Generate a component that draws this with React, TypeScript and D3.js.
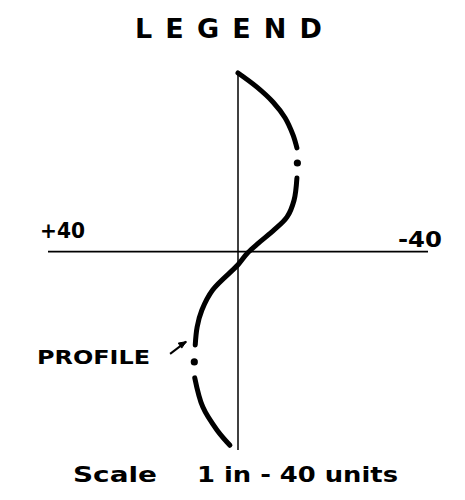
import * as d3 from "d3";

// profile: depth below top (0..80) vs deflection (+ to the left, - to the right)
const profileDepth = [0, 3, 6.2, 9.5, 13.2, 15.9, 19.1, 22.3, 27, 30.6, 33.3, 36.1, 38.2, 40.7, 46, 50.3, 53.9, 57.7, 61.3, 64.7, 70.9, 75.8, 79];
const profileDefl = [0, -4.0, -7.4, -9.9, -11.6, -12.4, -12.5, -12.4, -11.8, -10.3, -7.6, -4.3, -2.0, 0, 5.3, 7.6, 8.6, 9.0, 9.2, 9.1, 7.4, 4.4, 1.7];

// the drawn line is broken at these depths, with a dot in each break
const segments = [
  [0, 15.9],
  [22.3, 57.7],
  [64.7, 79],
];
const dotDepths = [19.1, 61.3];

const xLimits = [40, -40];
const xLabels = ["+40", "-40"];
const depthRange = [0, 80];
const axisDepth = 37.9;

const W = 465;
const H = 500;

export default function App() {
  const x = d3.scaleLinear().domain(xLimits).range([48, 428]);
  const y = d3.scaleLinear().domain(depthRange).range([73, 450]);

  const pts = profileDepth.map((d, i) => ({ depth: d, defl: profileDefl[i] }));

  const line = d3
    .line<{ depth: number; defl: number }>()
    .x((d) => x(d.defl))
    .y((d) => y(d.depth))
    .curve(d3.curveCatmullRom.alpha(0.5));

  const font = "'DejaVu Sans', sans-serif";

  // arrow pointing at the profile
  const tail = { defl: 14.3, depth: 59.6 };
  const head = { defl: 10.9, depth: 57.0 };

  return (
    <svg width={W} height={H} style={{ position: "absolute", left: 0, top: 0, background: "#fff" }}>
      <text x={135} y={38} fontFamily={font} fontWeight="bold" fontSize={27} textLength={187} lengthAdjust="spacing" fill="#000">
        LEGEND
      </text>

      {/* axes */}
      <line x1={x(xLimits[0])} x2={x(xLimits[1])} y1={y(axisDepth)} y2={y(axisDepth)} stroke="#000" strokeWidth={1.6} />
      <line x1={x(0)} x2={x(0)} y1={y(depthRange[0])} y2={y(depthRange[1])} stroke="#000" strokeWidth={1.5} />

      <text x={40} y={238} fontFamily={font} fontWeight="bold" fontSize={21} textLength={45} lengthAdjust="spacingAndGlyphs">
        {xLabels[0]}
      </text>
      <text x={398} y={247} fontFamily={font} fontWeight="bold" fontSize={21} textLength={44} lengthAdjust="spacingAndGlyphs">
        {xLabels[1]}
      </text>

      {/* profile */}
      {segments.map(([a, b], i) => (
        <path
          key={i}
          d={line(pts.filter((p) => p.depth >= a && p.depth <= b)) || ""}
          fill="none"
          stroke="#000"
          strokeWidth={5}
          strokeLinecap="round"
        />
      ))}
      {dotDepths.map((d) => {
        const p = pts.find((q) => q.depth === d)!;
        return <circle key={d} cx={x(p.defl)} cy={y(p.depth)} r={3.6} fill="#000" />;
      })}

      <text x={37} y={364} fontFamily={font} fontWeight="bold" fontSize={19} textLength={113} lengthAdjust="spacingAndGlyphs">
        PROFILE
      </text>
      <line x1={x(tail.defl)} y1={y(tail.depth)} x2={x(head.defl)} y2={y(head.depth)} stroke="#000" strokeWidth={2} />
      <path
        d={`M${x(head.defl)},${y(head.depth)} l-8,1.5 l3.5,5 z`}
        fill="#000"
        stroke="#000"
        strokeWidth={1}
      />

      <text x={73} y={482} fontFamily={font} fontWeight="bold" fontSize={22} textLength={84} lengthAdjust="spacingAndGlyphs">
        Scale
      </text>
      <text x={197} y={482} fontFamily={font} fontSize={22} fontWeight="bold" textLength={201} lengthAdjust="spacingAndGlyphs">
        1 in - 40 units
      </text>
    </svg>
  );
}
